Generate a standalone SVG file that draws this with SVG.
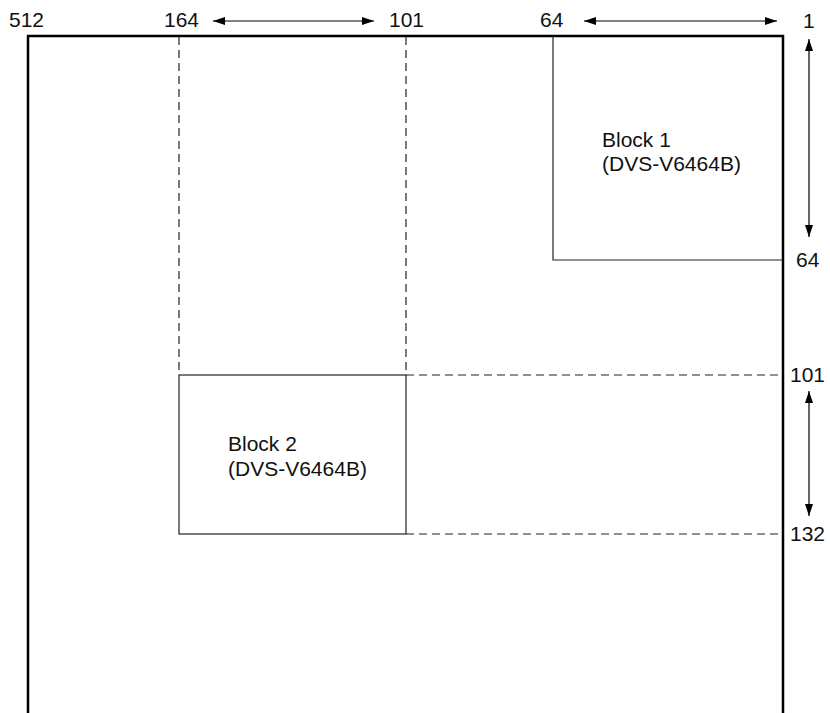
<svg xmlns="http://www.w3.org/2000/svg" width="830" height="713" viewBox="0 0 830 713">
<defs>
<marker id="ah" viewBox="0 0 12 8" refX="12" refY="4" markerWidth="12" markerHeight="8" markerUnits="userSpaceOnUse" orient="auto-start-reverse">
<path d="M0,0 L12,4 L0,8 Z" fill="#000"/>
</marker>
<style>
.t{font-family:"Liberation Sans",Arial,sans-serif;font-size:21px;fill:#111}
.thin{fill:none;stroke:#222;stroke-width:1.2}
.dash{fill:none;stroke:#222;stroke-width:1.2;stroke-dasharray:8 5}
.frame{fill:none;stroke:#000;stroke-width:2.5}
.arr{fill:none;stroke:#000;stroke-width:1.2;marker-start:url(#ah);marker-end:url(#ah)}
</style>
</defs>
<rect width="830" height="713" fill="#fff"/>
<g id="frame">
<path class="frame" d="M28,713 V36 H783 V713"/>
</g>
<g id="block1">
<path class="thin" d="M553,36 V260 H783"/>
<text class="t" x="602" y="147">Block 1</text>
<text class="t" x="602" y="171">(DVS-V6464B)</text>
</g>
<g id="block2">
<rect class="thin" x="179" y="375" width="227" height="159"/>
<text class="t" x="228" y="451">Block 2</text>
<text class="t" x="228" y="476">(DVS-V6464B)</text>
</g>
<g id="connectors">
<path class="dash" d="M179,37 V375 M406,37 V375"/>
<path class="dash" d="M406,375 H783 M406,534 H783"/>
<line class="arr" x1="213" y1="21" x2="374" y2="21"/>
<line class="arr" x1="584" y1="21" x2="777" y2="21"/>
<line class="arr" x1="809" y1="39" x2="809" y2="237"/>
<line class="arr" x1="809" y1="391" x2="809" y2="516"/>
</g>
<g id="labels">
<text class="t" x="9" y="27">512</text>
<text class="t" x="164" y="27">164</text>
<text class="t" x="389" y="27">101</text>
<text class="t" x="540" y="27">64</text>
<text class="t" x="803" y="28">1</text>
<text class="t" x="796" y="267">64</text>
<text class="t" x="790" y="382">101</text>
<text class="t" x="790" y="541">132</text>
</g>
</svg>
